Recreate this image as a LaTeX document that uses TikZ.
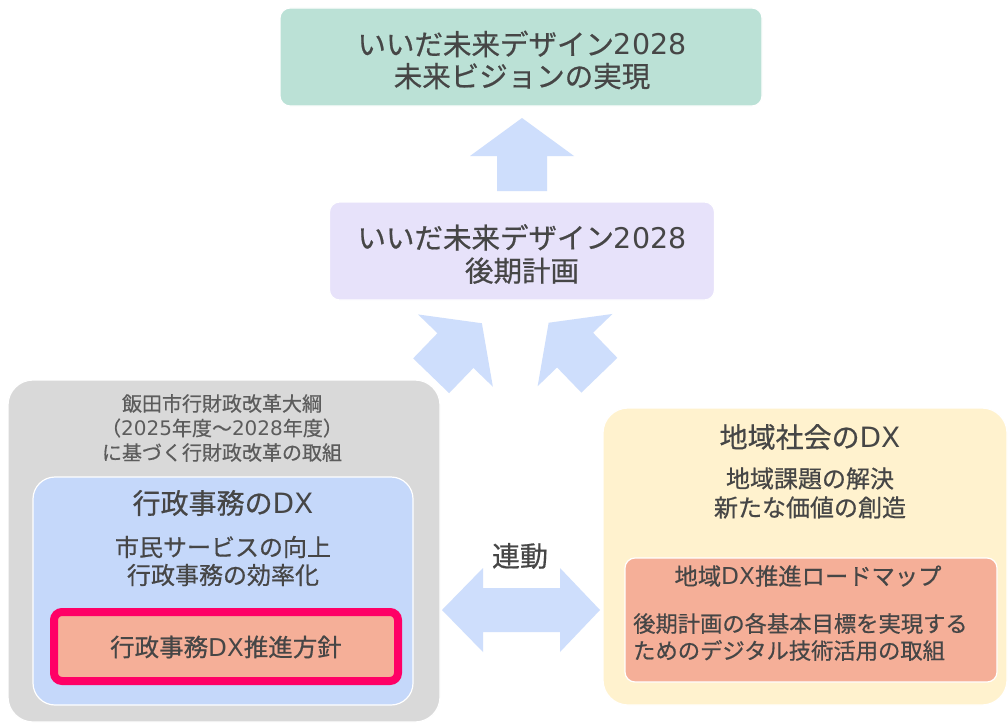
\documentclass[tikz,border=0pt]{standalone}
\usepackage{fontspec}
\setmainfont{Noto Sans CJK JP}[FakeBold=0.6]
\newfontfamily\latfont{DejaVu Sans}
\newcommand\la[1]{{\latfont #1}}
\definecolor{mint}{RGB}{187,225,214}
\definecolor{lav}{RGB}{231,226,250}
\definecolor{grayb}{RGB}{217,217,217}
\definecolor{blueb}{RGB}{197,216,250}
\definecolor{yell}{RGB}{255,242,206}
\definecolor{salm}{RGB}{245,175,152}
\definecolor{mag}{RGB}{255,0,102}
\definecolor{arr}{RGB}{206,222,252}
\definecolor{txt}{RGB}{70,70,70}
\definecolor{txtl}{RGB}{92,92,92}
\newcommand\fs[2]{\fontsize{#1}{#2}\selectfont}
\newcommand\blockarrow[4]{%
  \coordinate (#1) at (#2,#3);
  \begin{scope}[shift={(#1)}, rotate=#4]
    \fill[arr] (-36.5,-25) -- (-1.5,-25) -- (-1.5,-52) -- (36.5,0) -- (-1.5,52) -- (-1.5,25) -- (-36.5,25) -- cycle;
  \end{scope}}
\begin{document}
\begin{tikzpicture}[x=1pt,y=-1pt,
  box/.style={rounded corners=#1, draw=white, line width=1.2pt, inner sep=0pt, outer sep=0pt},
  tx/.style={align=center, text=txt, inner sep=0pt}]
\useasboundingbox (0,0) rectangle (1008,725);
\fill[white] (0,0) rectangle (1008,725);

% top boxes
\node[box=10pt, fill=mint, minimum width=482, minimum height=98] (top) at (521,57) {};
\node[tx, font=\fs{28.5}{32}] (toptext) at (522,60) {いいだ未来デザイン\la{2028}\\未来ビジョンの実現};
\node[box=10pt, fill=lav, minimum width=385, minimum height=98] (mid) at (522,251) {};
\node[tx, font=\fs{28.5}{33}] (midtext) at (522,254) {いいだ未来デザイン\la{2028}\\後期計画};

% arrows
\blockarrow{aup}{522}{154.5}{90}
\blockarrow{aleft}{456.5}{349.5}{46}
\blockarrow{aright}{574}{349}{134}

% left group
\node[box=25pt, fill=grayb, minimum width=432, minimum height=342] (gray) at (224,551) {};
\node[tx, text=txtl, font=\fs{20}{24.5}] (graytext) at (222,428) {飯田市行財政改革大綱\\（\la{2025}年度～\la{2028}年度）\\に基づく行財政改革の取組};
\node[box=22pt, fill=blueb, minimum width=380, minimum height=228] (blue) at (223,591) {};
\node[tx, font=\fs{28}{30}] (bluetitle) at (223,503) {行政事務の\la{DX}};
\node[tx, font=\fs{24}{28}] (bluesub) at (223,561) {市民サービスの向上\\行政事務の効率化};
\node[rounded corners=8pt, fill=salm, draw=mag, line width=8pt, inner sep=0pt, outer sep=0pt, minimum width=344, minimum height=69] (red) at (226,646.5) {};
\node[tx, font=\fs{24.5}{26}] (redtext) at (226,647) {行政事務\la{DX}推進方針};

% right group
\node[box=25pt, fill=yell, minimum width=404, minimum height=297] (yellow) at (805,556.5) {};
\node[tx, font=\fs{28}{30}] (yeltitle) at (810,437) {地域社会の\la{DX}};
\node[tx, font=\fs{24}{29}] (yelsub) at (810,493) {地域課題の解決\\新たな価値の創造};
\node[box=10pt, fill=salm, minimum width=372, minimum height=124] (road) at (811,620) {};
\node[tx, font=\fs{23.3}{26}] (roadtitle) at (808,576) {地域\la{DX}推進ロードマップ};
\node[tx, align=left, anchor=west, font=\fs{22.3}{27}] (roadtext) at (633,637) {後期計画の各基本目標を実現する\\ためのデジタル技術活用の取組};

% link
\node[tx, font=\fs{28}{30}] (link) at (520,556) {連動};
\fill[arr] (442,610) -- (483,568) -- (483,588) -- (560,588) -- (560,568) -- (600,610) -- (560,652) -- (560,632) -- (483,632) -- (483,652) -- cycle;
\end{tikzpicture}
\end{document}
